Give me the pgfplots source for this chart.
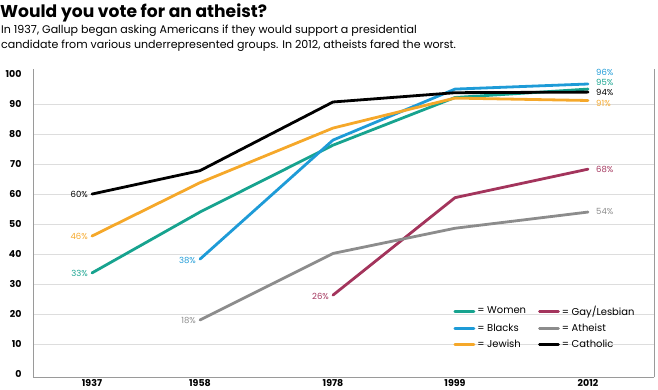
\documentclass[border=0pt]{standalone}
\usepackage{pgfplots}
\pgfplotsset{compat=1.18}
\usepackage{fontspec}
\setmainfont{Poppins}
\definecolor{cWomen}{HTML}{17A38F}
\definecolor{cBlacks}{HTML}{1E9BD7}
\definecolor{cJewish}{HTML}{F5A82A}
\definecolor{cGay}{HTML}{A3345C}
\definecolor{cAtheist}{HTML}{8C8C8C}
\definecolor{cGrid}{HTML}{DDDDDD}
\definecolor{cAxis}{HTML}{9A9A9A}
\begin{document}
\begin{tikzpicture}
\useasboundingbox (0bp,0bp) rectangle (658bp,-390bp);
\node[anchor=base west, font=\bfseries\fontsize{17.2}{17.2}\selectfont, inner sep=0pt] at (0bp,-17bp) {Would you vote for an atheist?};
\node[anchor=base west, font=\fontsize{11.1}{11.1}\selectfont, inner sep=0pt] at (1bp,-33bp) {In 1937, Gallup began asking Americans if they would support a presidential};
\node[anchor=base west, font=\fontsize{11.1}{11.1}\selectfont, inner sep=0pt] at (1bp,-48bp) {candidate from various underrepresented groups. In 2012, atheists fared the worst.};
\begin{axis}[
  at={(33bp,-377bp)}, anchor=south west,
  scale only axis, width=621bp, height=308bp,
  xmin=33, xmax=654, ymin=-1, ymax=101.7,
  axis x line*=bottom, axis y line*=left,
  axis line style={cAxis, line width=0.8bp},
  xtick={92,200,333,455,588},
  xticklabels={1937,1958,1978,1999,2012},
  major x tick style={draw=none},
  extra x ticks={143,267,401,523},
  extra x tick labels={},
  extra x tick style={tick align=outside, major tick length=3bp, tick style={cAxis, line width=0.6bp}},
  xticklabel style={font=\bfseries\fontsize{9.5}{9.5}\selectfont, yshift=1bp},
  ytick={10,20,...,90},
  extra y ticks={0,100},
  extra y tick style={grid=none},
  ymajorgrids, grid style={cGrid, line width=0.7bp},
  major y tick style={draw=none},
  yticklabel style={font=\bfseries\fontsize{9.5}{9.5}\selectfont, xshift=-8bp},
  /pgf/number format/assume math mode=true,
  legend columns=2,
  legend style={draw=none, fill=none, at={(rel axis cs:0.672,0.245)}, anchor=north west,
    font=\fontsize{10}{10}\selectfont, row sep=3bp,
    /tikz/every even column/.append style={column sep=10bp}},
  legend cell align=left,
  legend image code/.code={\draw[#1, line width=2.8bp] (0bp,0bp) -- (19bp,0bp);},
  every axis plot/.append style={line width=2.8bp, line join=round, line cap=round},
  clip=false,
]
\addplot[cWomen] coordinates {(92,33.7) (200,54) (333,76.3) (455,92.2) (588,95)};
\addlegendentry{= Women}
\addplot[cGay] coordinates {(333,26.3) (455,58.8) (588,68.3)};
\addlegendentry{= Gay/Lesbian}
\addplot[cBlacks] coordinates {(200,38.3) (333,78) (455,95) (588,96.7)};
\addlegendentry{= Blacks}
\addplot[cAtheist] coordinates {(200,18) (333,40.2) (455,48.6) (588,54)};
\addlegendentry{= Atheist}
\addplot[cJewish] coordinates {(92,46) (200,63.8) (333,82) (455,92) (588,91.2)};
\addlegendentry{= Jewish}
\addplot[black] coordinates {(92,60) (200,67.8) (333,90.7) (455,93.8) (588,94)};
\addlegendentry{= Catholic}
\draw[cAxis, line width=0.8bp] (rel axis cs:1,0) -- (rel axis cs:1,1);
\begin{scope}[every node/.style={font=\fontsize{8.5}{8.5}\selectfont, inner sep=0pt}]
\node[anchor=east, text=black] at (axis cs:88,60) {60\%};
\node[anchor=east, text=cJewish] at (axis cs:88,46) {46\%};
\node[anchor=east, text=cWomen] at (axis cs:88,33.7) {33\%};
\node[anchor=east, text=cBlacks] at (axis cs:196,38) {38\%};
\node[anchor=east, text=cAtheist] at (axis cs:196,18) {18\%};
\node[anchor=east, text=cGay] at (axis cs:329,26) {26\%};
\node[anchor=west, text=cBlacks] at (axis cs:596,100.7) {96\%};
\node[anchor=west, text=cWomen] at (axis cs:596,97.3) {95\%};
\node[anchor=west, text=black] at (axis cs:596,93.9) {94\%};
\node[anchor=west, text=cJewish] at (axis cs:596,90.3) {91\%};
\node[anchor=west, text=cGay] at (axis cs:596,68.3) {68\%};
\node[anchor=west, text=cAtheist] at (axis cs:596,54.3) {54\%};
\end{scope}
\end{axis}
\end{tikzpicture}
\end{document}
